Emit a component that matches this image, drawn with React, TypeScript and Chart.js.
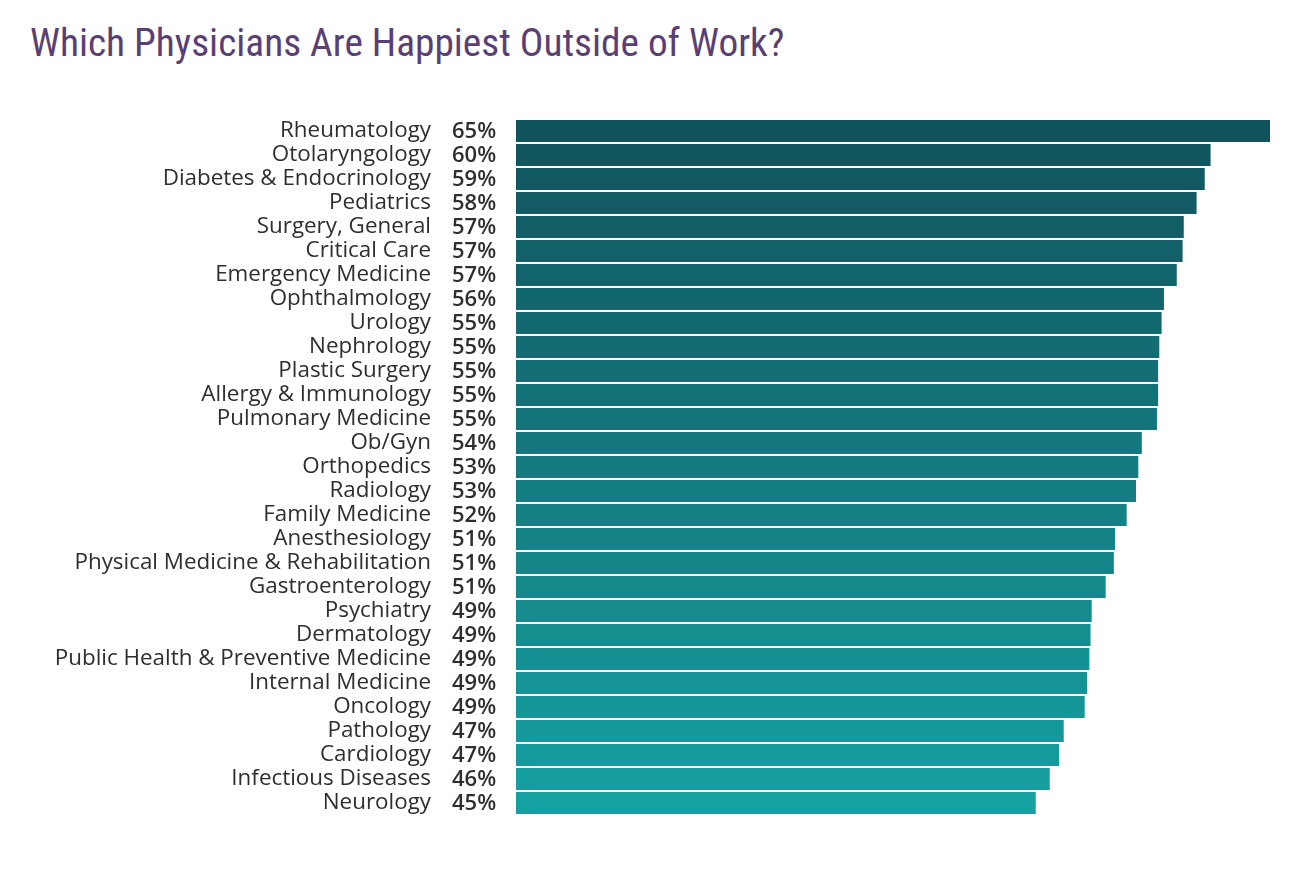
import React, { useEffect, useRef } from "react";
import { Chart, registerables } from "chart.js";

Chart.register(...registerables);

const TITLE = "Which Physicians Are Happiest Outside of Work?";

const specialties = [
  "Rheumatology",
  "Otolaryngology",
  "Diabetes & Endocrinology",
  "Pediatrics",
  "Surgery, General",
  "Critical Care",
  "Emergency Medicine",
  "Ophthalmology",
  "Urology",
  "Nephrology",
  "Plastic Surgery",
  "Allergy & Immunology",
  "Pulmonary Medicine",
  "Ob/Gyn",
  "Orthopedics",
  "Radiology",
  "Family Medicine",
  "Anesthesiology",
  "Physical Medicine & Rehabilitation",
  "Gastroenterology",
  "Psychiatry",
  "Dermatology",
  "Public Health & Preventive Medicine",
  "Internal Medicine",
  "Oncology",
  "Pathology",
  "Cardiology",
  "Infectious Diseases",
  "Neurology",
];

const happyValues = [
  64.7, 59.6, 59.1, 58.4, 57.3, 57.2, 56.7, 55.6, 55.4, 55.2, 55.1, 55.1, 55.0,
  53.7, 53.4, 53.2, 52.4, 51.4, 51.3, 50.6, 49.4, 49.3, 49.2, 49.0, 48.8, 47.0,
  46.6, 45.8, 44.6,
];

const shownPercents = [
  "65%", "60%", "59%", "58%", "57%", "57%", "57%", "56%", "55%", "55%", "55%",
  "55%", "55%", "54%", "53%", "53%", "52%", "51%", "51%", "51%", "49%", "49%",
  "49%", "49%", "49%", "47%", "47%", "46%", "45%",
];

const TOP_COLOR = [17, 83, 93];
const BOTTOM_COLOR = [22, 161, 161];

function barColor(i: number, n: number) {
  const t = n > 1 ? i / (n - 1) : 0;
  const c = TOP_COLOR.map((v, k) => Math.round(v + (BOTTOM_COLOR[k] - v) * t));
  return `rgb(${c[0]},${c[1]},${c[2]})`;
}

const LABEL_FONT = "'Open Sans', 'Noto Sans', Lato, sans-serif";

const percentPlugin = {
  id: "percentLabels",
  afterDatasetsDraw(chart: any) {
    const { ctx, chartArea } = chart;
    const yScale = chart.scales.y;
    ctx.save();
    ctx.font = `600 22px ${LABEL_FONT}`;
    ctx.fillStyle = "#2e2e2e";
    ctx.textAlign = "left";
    ctx.textBaseline = "middle";
    shownPercents.forEach((p, i) => {
      const y = yScale.getPixelForValue(i);
      ctx.fillText(p, chartArea.left - 64, y + 1);
    });
    ctx.restore();
  },
};

export default function App() {
  const canvasRef = useRef<HTMLCanvasElement | null>(null);

  useEffect(() => {
    if (!canvasRef.current) return;
    const n = happyValues.length;
    const chart = new Chart(canvasRef.current, {
      type: "bar",
      data: {
        labels: specialties,
        datasets: [
          {
            data: happyValues,
            backgroundColor: happyValues.map((_, i) => barColor(i, n)),
            borderWidth: 0,
            categoryPercentage: 1,
            barPercentage: 0.917,
          },
        ],
      },
      options: {
        indexAxis: "y",
        responsive: false,
        animation: false,
        maintainAspectRatio: false,
        layout: { padding: { top: 119, bottom: 63, right: 20, left: 0 } },
        plugins: {
          legend: { display: false },
          tooltip: { enabled: false },
          title: { display: false },
        },
        scales: {
          x: {
            display: false,
            min: 0,
            max: happyValues[0],
          },
          y: {
            grid: { display: false, drawTicks: false },
            border: { display: false },
            afterFit: (s: any) => {
              s.width = 516;
              s.paddingTop = 0;
              s.paddingBottom = 0;
            },
            ticks: {
              padding: 85,
              color: "#2e2e2e",
              autoSkip: false,
              font: { family: LABEL_FONT, size: 22.4, weight: "normal" },
            },
          },
        },
      },
      plugins: [percentPlugin],
    });
    return () => chart.destroy();
  }, []);

  return (
    <div
      style={{
        position: "absolute",
        left: 0,
        top: 0,
        width: 1290,
        height: 878,
        background: "#ffffff",
      }}
    >
      <div
        style={{
          position: "absolute",
          left: 30,
          top: 17,
          fontFamily: "'Roboto Condensed', 'Liberation Sans Narrow', 'DejaVu Sans Condensed', sans-serif",
          fontSize: 39.3,
          color: "#5a3f74",
          whiteSpace: "nowrap",
          lineHeight: "52px",
        }}
      >
        {TITLE}
      </div>
      <canvas
        ref={canvasRef}
        width={1290}
        height={878}
        style={{ position: "absolute", left: 0, top: 0, width: 1290, height: 878 }}
      />
    </div>
  );
}
